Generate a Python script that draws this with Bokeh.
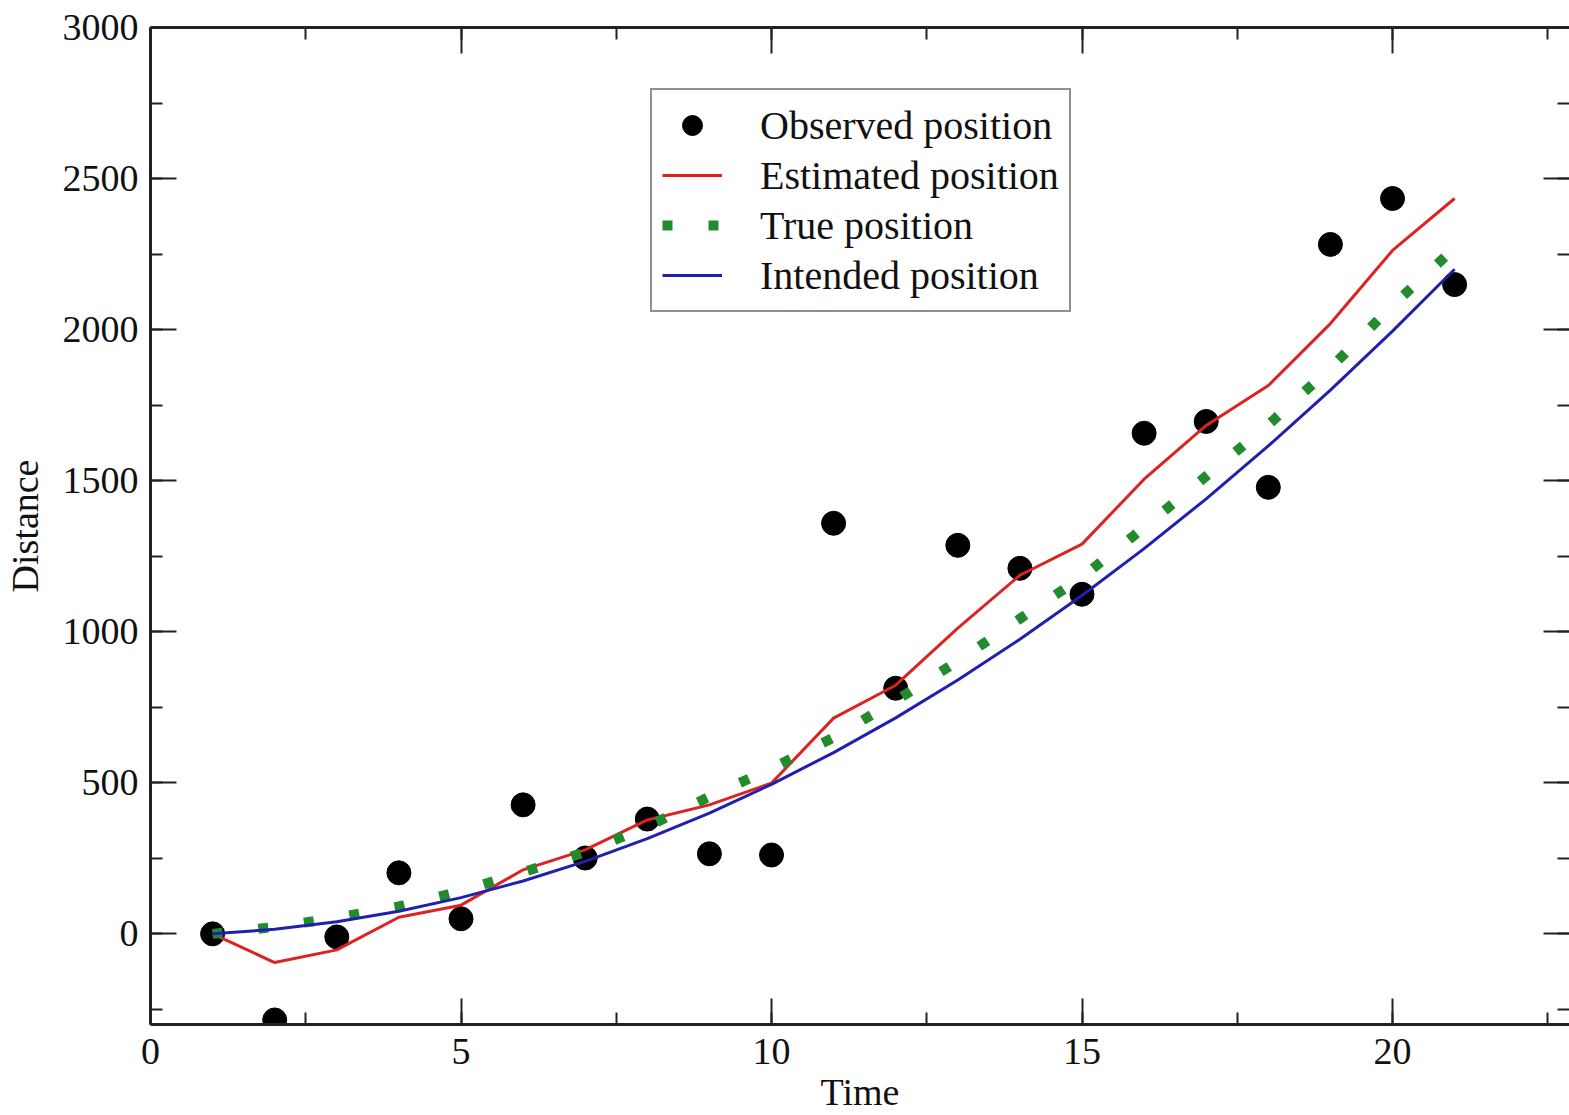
from bokeh.plotting import figure
from bokeh.models import Range1d, LinearAxis, Legend, LegendItem, SingleIntervalTicker, CustomJSTickFormatter
from bokeh.embed import file_html
from bokeh.resources import INLINE

time = list(range(1, 22))
observed = [0, -285, -10, 202, 50, 427, 251, 380, 265, 261, 1359, 813, 1286, 1210, 1124,
            1657, 1696, 1478, 2282, 2434, 2149]
estimated = [0, -95, -53, 55, 95, 212, 278, 377, 427, 499, 714, 823, 1012, 1187, 1290,
             1505, 1683, 1815, 2020, 2262, 2434]
true_pos = [0, 23, 53, 91, 141, 204, 271, 355, 454, 547, 650, 772, 903, 1043, 1181,
            1345, 1515, 1685, 1873, 2080, 2270]
intended = [0, 15, 40, 75, 120, 175, 240, 315, 400, 495, 600, 715, 840, 975, 1120,
            1275, 1440, 1615, 1800, 1995, 2200]

FONT = "Liberation Serif"

p = figure(width=1569, height=1115, output_backend="svg", toolbar_location=None,
           x_range=Range1d(0, 22.85), y_range=Range1d(-300, 3000),
           x_axis_location=None, y_axis_location=None,
           min_border_left=150, min_border_right=0, min_border_top=27, min_border_bottom=91)
p.outline_line_color = None
p.xgrid.visible = False
p.ygrid.visible = False
p.background_fill_color = "white"
p.border_fill_color = "white"


def style_axis(ax, labels=True, line=True):
    ax.axis_line_width = 3
    ax.axis_line_color = "#222222" if line else None
    ax.major_tick_in = 26
    ax.major_tick_out = 0
    ax.minor_tick_in = 12
    ax.minor_tick_out = 0
    ax.major_tick_line_width = 2
    ax.minor_tick_line_width = 2
    ax.major_tick_line_color = "#222222"
    ax.minor_tick_line_color = "#222222"
    ax.major_label_text_font = FONT
    ax.major_label_text_color = "#111111"
    ax.axis_label_text_font = FONT
    ax.axis_label_text_font_style = "normal"
    ax.axis_label_text_color = "#111111"
    ax.axis_label_text_font_size = "38px"
    if labels:
        ax.major_label_text_font_size = "38px"
    else:
        ax.formatter = CustomJSTickFormatter(code="return ''")
        ax.major_label_text_font_size = "1px"
        ax.major_label_standoff = 0


xb = LinearAxis(ticker=SingleIntervalTicker(interval=5, num_minor_ticks=2), axis_label="Time")
style_axis(xb)
xb.major_label_standoff = 14
xb.axis_label_standoff = 4
p.add_layout(xb, "below")

xt = LinearAxis(ticker=SingleIntervalTicker(interval=5, num_minor_ticks=2))
style_axis(xt, labels=False)
p.add_layout(xt, "above")

yl = LinearAxis(ticker=SingleIntervalTicker(interval=500, num_minor_ticks=2), axis_label="Distance")
style_axis(yl)
yl.major_label_standoff = 12
yl.axis_label_standoff = 14
p.add_layout(yl, "left")

yr = LinearAxis(ticker=SingleIntervalTicker(interval=500, num_minor_ticks=2))
style_axis(yr, labels=False, line=False)
p.add_layout(yr, "right")

r_obs = p.scatter(time, observed, size=24, color="black", marker="circle")
r_est = p.line(time, estimated, line_color="#dd2222", line_width=3)
r_true = p.line(time, true_pos, line_color="#228b2e", line_width=10,
                line_dash="10 36", line_cap="butt")
r_int = p.line(time, intended, line_color="#2020b0", line_width=3)

legend = Legend(items=[
    LegendItem(label="Observed position", renderers=[r_obs]),
    LegendItem(label="Estimated position", renderers=[r_est]),
    LegendItem(label="True position", renderers=[r_true]),
    LegendItem(label="Intended position", renderers=[r_int]),
], location=(500, 712))
legend.label_text_font = FONT
legend.label_text_font_size = "40px"
legend.label_text_color = "#111111"
legend.label_height = 50
legend.glyph_height = 50
legend.glyph_width = 60
legend.label_standoff = 38
legend.spacing = 0
legend.padding = 10
legend.margin = 0
legend.border_line_color = "#222222"
legend.border_line_width = 2
legend.background_fill_alpha = 1
p.add_layout(legend, "center")

open("out.html", "w").write(file_html(p, INLINE))
